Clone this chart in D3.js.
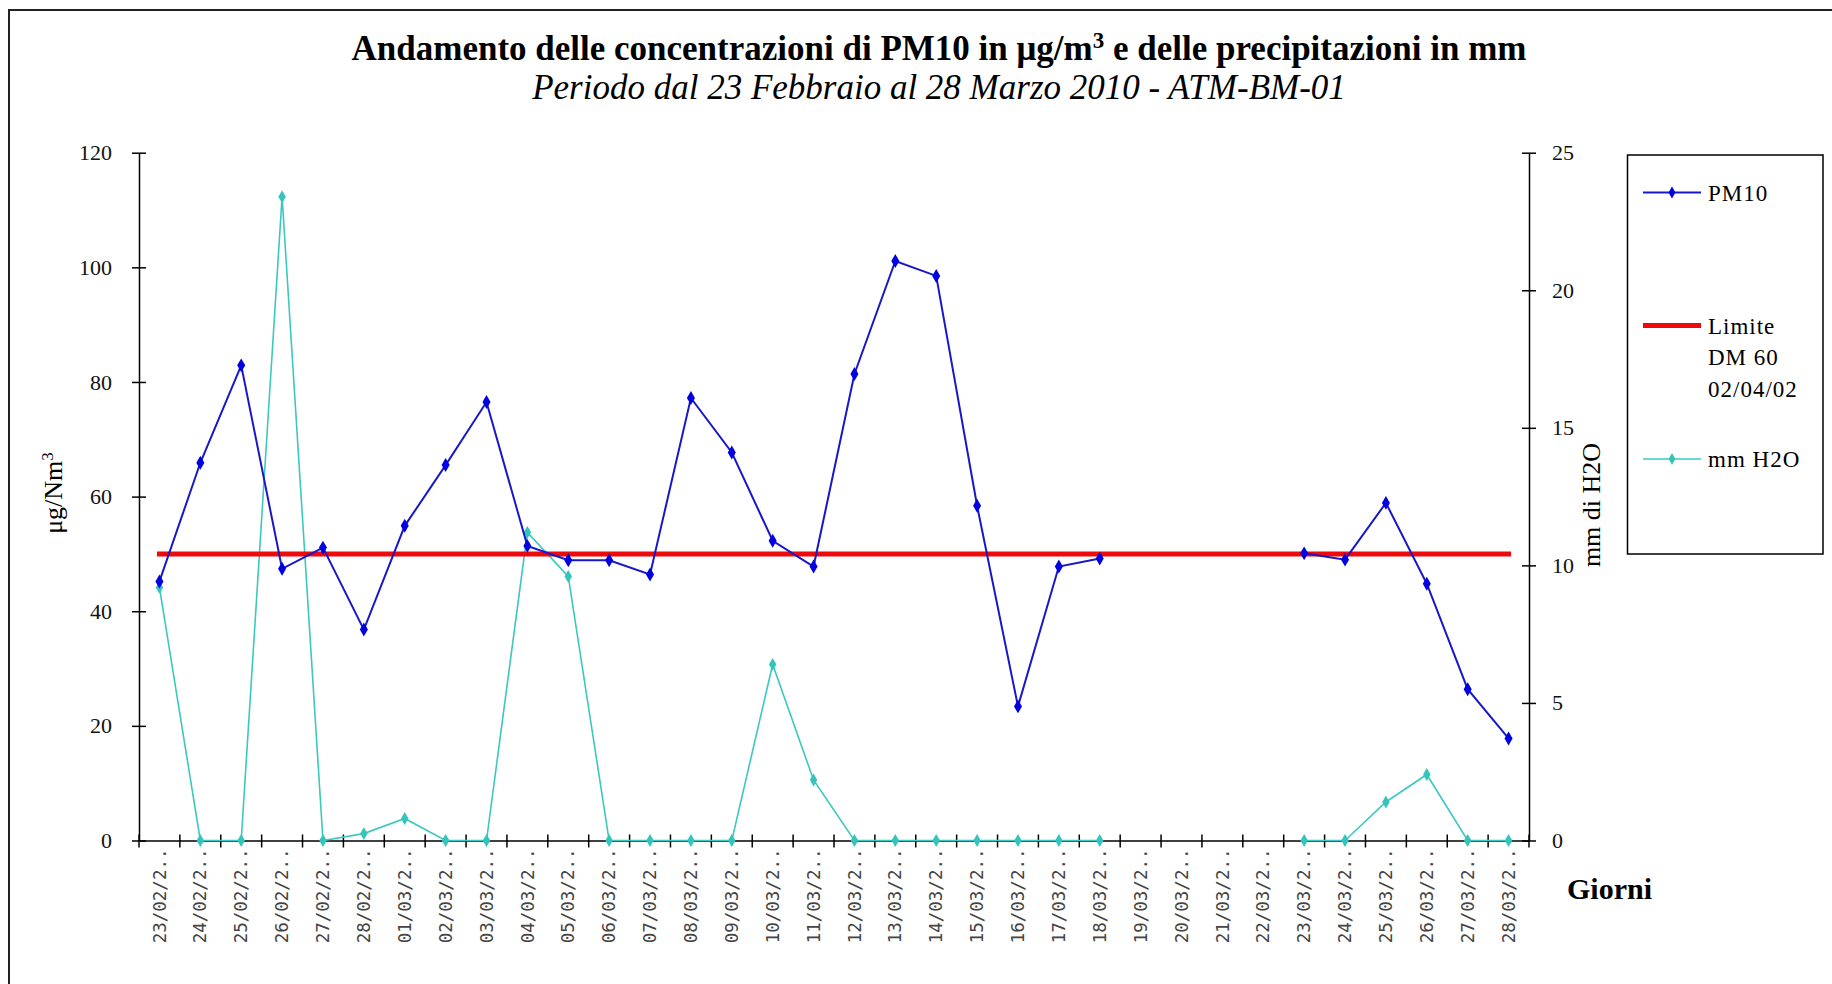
<!DOCTYPE html>
<html>
<head>
<meta charset="utf-8">
<script src="https://cdn.jsdelivr.net/npm/d3@7"></script>
<style>
  body { margin: 0; background: #fff; }
  svg { display: block; }
</style>
</head>
<body>
<div id="chart"></div>
<script>
var width = 1832, height = 984;

// giorni (etichette troncate come nell'originale)
var days = ['23/02/2010', '24/02/2010', '25/02/2010', '26/02/2010', '27/02/2010', '28/02/2010',
  '01/03/2010', '02/03/2010', '03/03/2010', '04/03/2010', '05/03/2010', '06/03/2010', '07/03/2010',
  '08/03/2010', '09/03/2010', '10/03/2010', '11/03/2010', '12/03/2010', '13/03/2010', '14/03/2010',
  '15/03/2010', '16/03/2010', '17/03/2010', '18/03/2010', '19/03/2010', '20/03/2010', '21/03/2010',
  '22/03/2010', '23/03/2010', '24/03/2010', '25/03/2010', '26/03/2010', '27/03/2010', '28/03/2010'];

// PM10 in ug/Nm3
var pm10 = [45.2, 65.9, 82.9, 47.4, 51.1, 36.8,
  54.9, 65.5, 76.5, 51.4, 48.9, 48.9, 46.4, 77.2, 67.7, 52.3, 47.8, 81.4, 101.1, 98.5,
  58.4, 23.4, 47.8, 49.2, null, null, null, null, 50.1, 49.0, 58.9, 44.8, 26.4, 17.8];

// precipitazioni in mm
var rain = [9.2, 0, 0, 23.4, 0, 0.25,
  0.8, 0, 0, 11.2, 9.6, 0, 0, 0, 0, 6.4, 2.2, 0, 0, 0,
  0, 0, 0, 0, null, null, null, null, 0, 0, 1.4, 2.4, 0, 0];

// limite DM 60 02/04/02
var limit = days.map(function() { return 50; });

var leftTicks = [0, 20, 40, 60, 80, 100, 120];
var rightTicks = [0, 5, 10, 15, 20, 25];

var serif = '"Liberation Serif", "Times New Roman", serif';

var svg = d3.select('#chart').append('svg')
  .attr('width', width)
  .attr('height', height);

// cornice esterna
svg.append('rect')
  .attr('x', 9).attr('y', 10)
  .attr('width', width).attr('height', height)
  .attr('fill', '#fff')
  .attr('stroke', '#222')
  .attr('stroke-width', 2);

var x = d3.scaleBand().domain(days).range([139, 1529]);
var y = d3.scaleLinear().domain([0, 120]).range([840.5, 152.7]);
var y2 = d3.scaleLinear().domain([0, 25]).range([840.5, 152.7]);

function cx(d, i) { return x(days[i]) + x.bandwidth() / 2; }

// punti con indice del giorno, senza i giorni mancanti
function points(arr) {
  return arr.map(function(v, i) { return { v: v, i: i }; })
    .filter(function(p) { return p.v != null; });
}

// asse sinistro
var gLeft = svg.append('g')
  .attr('transform', 'translate(139,0)')
  .call(d3.axisLeft(y).tickValues(leftTicks).tickSize(7).tickSizeOuter(0).tickPadding(20));
gLeft.selectAll('.tick line').attr('x1', 7).attr('x2', -7);
gLeft.selectAll('text').style('font-family', serif).style('font-size', '22px').attr('fill', '#111');

// asse destro
var gRight = svg.append('g')
  .attr('transform', 'translate(1529,0)')
  .call(d3.axisRight(y2).tickValues(rightTicks).tickSize(7).tickSizeOuter(0).tickPadding(16));
gRight.selectAll('.tick line').attr('x1', 7).attr('x2', -7);
gRight.selectAll('text').style('font-family', serif).style('font-size', '22px').attr('fill', '#111');

// asse x: etichette al centro, tacche ai bordi delle categorie
var gBottom = svg.append('g')
  .attr('transform', 'translate(0,840.5)')
  .call(d3.axisBottom(x).tickSize(0).tickSizeOuter(0)
    .tickFormat(function(d) { return d.slice(0, 7) + '..'; }));
gBottom.selectAll('text')
  .attr('transform', 'rotate(-90)')
  .attr('x', -8).attr('y', 0).attr('dy', '0.35em')
  .style('text-anchor', 'end')
  .style('font-family', '"DejaVu Sans Mono", monospace')
  .style('font-size', '17.5px')
  .attr('fill', '#444');
gBottom.selectAll('.bnd')
  .data(days.map(function(d) { return x(d); }).concat([x.range()[1]]))
  .enter().append('line')
  .attr('class', 'bnd')
  .attr('x1', function(d) { return d; }).attr('x2', function(d) { return d; })
  .attr('y1', -6).attr('y2', 7);

svg.selectAll('.domain').attr('stroke', '#000').attr('stroke-width', 1.5);
svg.selectAll('.tick line, .bnd').attr('stroke', '#000').attr('stroke-width', 1.5);

// serie
var linePm = d3.line()
  .defined(function(d) { return d != null; })
  .x(cx).y(function(d) { return y(d); });
var lineRain = d3.line()
  .defined(function(d) { return d != null; })
  .x(cx).y(function(d) { return y2(d); });

svg.append('path').datum(rain)
  .attr('d', lineRain)
  .attr('fill', 'none').attr('stroke', '#3cc8c0').attr('stroke-width', 1.6);
svg.selectAll('.mk-rain')
  .data(points(rain)).enter()
  .append('path').attr('class', 'mk-rain')
  .attr('d', d3.symbol(d3.symbolDiamond).size(48))
  .attr('transform', function(p) { return 'translate(' + cx(p.v, p.i) + ',' + y2(p.v) + ')'; })
  .attr('fill', '#33c4bc');

svg.append('path').datum(limit)
  .attr('d', d3.line().x(cx).y(function(d) { return y(d); }))
  .attr('fill', 'none').attr('stroke', '#ee0a0a').attr('stroke-width', 5)
  .attr('stroke-linecap', 'square');

svg.append('path').datum(pm10)
  .attr('d', linePm)
  .attr('fill', 'none').attr('stroke', '#1818c8').attr('stroke-width', 2);
svg.selectAll('.mk-pm')
  .data(points(pm10)).enter()
  .append('path').attr('class', 'mk-pm')
  .attr('d', d3.symbol(d3.symbolDiamond).size(56))
  .attr('transform', function(p) { return 'translate(' + cx(p.v, p.i) + ',' + y(p.v) + ')'; })
  .attr('fill', '#0000e0');

// titoli
var title = svg.append('text')
  .attr('x', 939).attr('y', 60)
  .attr('text-anchor', 'middle')
  .style('font-family', serif).style('font-size', '35px').style('font-weight', 'bold')
  .text('Andamento delle concentrazioni di PM10 in μg/m');
title.append('tspan').attr('dy', -12).style('font-size', '23px').text('3');
title.append('tspan').attr('dy', 12).text(' e delle precipitazioni in mm');

svg.append('text')
  .attr('x', 939).attr('y', 99)
  .attr('text-anchor', 'middle')
  .style('font-family', serif).style('font-size', '35px').style('font-style', 'italic')
  .text('Periodo dal 23 Febbraio al 28 Marzo 2010 - ATM-BM-01');

var yt = svg.append('text')
  .attr('transform', 'translate(62,493) rotate(-90)')
  .attr('text-anchor', 'middle')
  .style('font-family', serif).style('font-size', '26px')
  .text('μg/Nm');
yt.append('tspan').attr('dy', -9).style('font-size', '17px').text('3');

svg.append('text')
  .attr('transform', 'translate(1600,505) rotate(-90)')
  .attr('text-anchor', 'middle')
  .style('font-family', serif).style('font-size', '26px')
  .text('mm di H2O');

svg.append('text')
  .attr('x', 1567).attr('y', 899)
  .style('font-family', serif).style('font-size', '30px').style('font-weight', 'bold')
  .text('Giorni');

// legenda
var legend = svg.append('g');
legend.append('rect')
  .attr('x', 1627.5).attr('y', 155)
  .attr('width', 195.5).attr('height', 399)
  .attr('fill', '#fff').attr('stroke', '#000').attr('stroke-width', 1.5);

var items = [
  { name: ['PM10'], color: '#1818c8', w: 2, mk: '#0000e0', y: 192.5 },
  { name: ['Limite', 'DM 60', '02/04/02'], color: '#ee0a0a', w: 5, mk: null, y: 325.5 },
  { name: ['mm H2O'], color: '#3cc8c0', w: 1.6, mk: '#33c4bc', y: 459 }
];
var item = legend.selectAll('.item').data(items).enter().append('g').attr('class', 'item');
item.append('line')
  .attr('x1', 1643).attr('x2', 1701)
  .attr('y1', function(d) { return d.y; }).attr('y2', function(d) { return d.y; })
  .attr('stroke', function(d) { return d.color; })
  .attr('stroke-width', function(d) { return d.w; });
item.filter(function(d) { return d.mk; }).append('path')
  .attr('d', d3.symbol(d3.symbolDiamond).size(40))
  .attr('transform', function(d) { return 'translate(1672,' + d.y + ')'; })
  .attr('fill', function(d) { return d.mk; });
item.append('text')
  .attr('x', 1708).attr('y', function(d) { return d.y + 8; })
  .style('font-family', serif).style('font-size', '23px').style('letter-spacing', '1px')
  .selectAll('tspan').data(function(d) { return d.name; }).enter().append('tspan')
  .attr('x', 1708).attr('dy', function(d, i) { return i ? 31.8 : 0; })
  .text(function(d) { return d; });
</script>
</body>
</html>
